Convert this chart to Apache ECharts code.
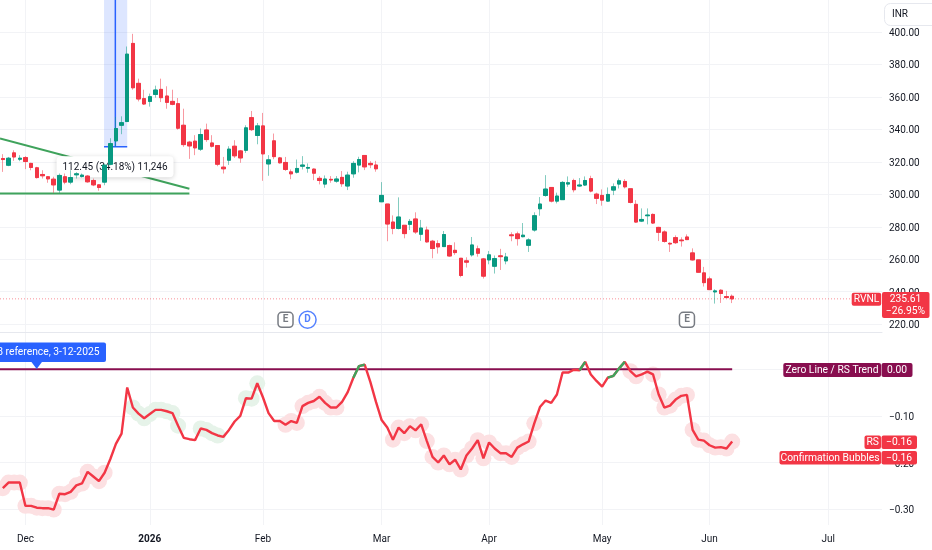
<!DOCTYPE html>
<html>
<head>
<meta charset="utf-8">
<style>html,body{margin:0;padding:0;background:#fff}#c{width:932px;height:550px}</style>
<script src="https://cdn.jsdelivr.net/npm/echarts@6/dist/echarts.min.js"></script>
</head>
<body>
<div id="c"></div>
<script>
// ---- data: [open, close, low, high] per session ----
const candlesDecember = [
[322.0,321.4,313.8,324.7],[317.9,322.2,317.3,323.0],[325.5,323.0,320.6,327.1],[321.6,322.2,320.4,324.1],
[322.6,320.2,315.5,323.5],[319.0,316.5,314.8,319.4],[316.3,310.3,309.7,316.9],[312.2,311.4,309.7,314.8],
[310.8,309.5,307.1,311.2],[309.3,305.8,300.9,310.8],[302.6,311.6,300.9,312.8],[310.8,307.5,306.2,312.8],
[307.5,310.3,306.2,314.8],[312.0,312.6,309.7,313.6],[311.0,311.8,310.3,312.8],[311.2,307.7,307.1,311.8],
[308.5,305.8,305.0,309.7],[305.8,304.2,302.2,306.2],[307.5,317.9,305.6,318.9],[318.5,331.2,317.9,334.5],
[332.9,340.5,329.2,347.6],[342.5,344.1,337.0,348.0],[344.8,386.3,344.5,391.0],[392.9,365.6,364.4,398.8],
[368.3,358.7,357.2,371.2],[358.9,355.6,355.0,364.4]];
const candlesJanuary = [
[357.2,360.1,354.0,362.0],[361.5,364.2,359.5,366.9],[364.6,359.5,356.8,371.2],[360.5,356.6,352.7,366.5],
[357.2,355.4,354.8,364.4],[355.8,340.7,339.8,359.3],[342.5,330.6,329.2,352.7],[332.1,329.8,321.8,332.9],
[332.7,328.6,324.1,336.4],[327.8,336.8,326.7,340.5],[339.6,333.7,332.3,343.5],[331.6,329.6,328.8,336.4],
[330.0,318.5,317.3,330.2],[316.7,315.7,312.8,323.0],[321.0,327.8,318.1,329.6],[329.6,323.7,322.4,333.3],
[326.7,322.4,319.4,327.3],[327.1,340.9,325.5,342.5],[347.2,339.8,339.0,351.3],[336.2,342.1,330.8,343.9]];
const candlesFebruary = [
[342.1,324.9,308.3,350.1],[318.7,321.2,311.4,324.1],[332.9,323.2,321.6,337.4],[322.4,319.4,318.9,323.0],
[319.6,315.3,314.4,323.0],[313.8,312.6,309.3,315.3],[313.6,315.9,312.8,321.4],[317.3,318.0,315.3,323.5],
[316.1,316.5,313.3,319.0],[315.5,313.0,308.7,315.9],[309.8,308.5,306.1,311.2],[306.3,309.4,304.0,311.6],
[309.2,308.8,307.1,311.2],[308.1,309.4,307.1,311.2],[310.4,306.5,304.6,314.3],[305.1,311.8,302.6,313.9],
[312.6,319.0,310.2,320.4],[318.0,321.4,313.5,323.1],[323.9,316.9,314.9,323.9],[319.0,318.2,316.1,320.4],
[318.0,315.7,313.9,320.6]];
const candlesMarch = [
[295.4,299.3,295.2,307.5],[294.0,281.7,271.1,294.0],[282.9,279.0,275.4,287.0],[279.0,286.0,278.4,298.1],
[280.9,275.8,272.9,280.9],[281.5,283.3,278.0,284.8],[284.8,276.8,275.6,288.9],[275.4,279.2,271.3,284.2],
[278.0,270.7,270.2,280.1],[271.1,266.6,260.6,271.9],[269.6,267.6,263.5,271.7],[267.8,275.2,267.6,277.4],
[268.4,262.0,261.6,269.0],[265.5,264.1,262.7,270.4],[260.6,250.0,248.9,260.6],[259.0,258.2,254.9,261.2],
[262.7,268.8,261.6,273.7],[266.4,263.7,261.6,268.4],[260.2,249.6,248.1,260.8]];
const candlesApril = [
[259.6,262.7,256.9,265.1],[255.7,260.4,251.2,262.3],[262.1,261.6,253.4,266.4],[259.0,261.4,256.9,263.9],
[275.0,274.5,271.1,276.6],[275.6,272.7,268.4,277.0],[273.9,274.8,273.5,282.3],[268.6,271.9,264.5,272.9],
[278.0,286.8,277.0,288.9],[291.1,294.0,286.8,298.3],[299.3,303.2,298.5,311.8],[304.2,295.8,295.0,304.2],
[295.8,298.9,294.4,301.0],[296.7,307.3,296.5,308.1],[306.3,307.1,304.6,311.0],[308.5,302.8,301.2,309.6],
[305.1,305.7,304.6,310.0],[305.7,308.5,305.1,311.0],[309.6,302.0,301.2,311.4],[300.1,297.5,294.0,301.0]];
const candlesMay = [
[299.3,296.4,293.0,303.0],[295.8,299.9,295.4,304.2],[302.6,304.6,299.5,306.7],[306.3,308.3,303.6,309.7],
[307.9,304.6,303.6,309.3],[303.4,295.0,294.4,303.4],[293.8,282.9,282.5,296.4],[283.5,284.5,282.9,291.3],
[286.8,287.2,281.5,291.3],[287.6,282.3,281.7,288.2],[279.6,276.6,271.2,280.0],[276.8,271.0,270.2,277.8],
[269.8,269.4,264.5,270.4],[273.3,270.2,269.4,274.7],[271.8,271.4,267.8,273.5],[273.7,272.1,271.8,275.3],
[263.9,259.6,259.2,266.7],[259.6,252.0,251.8,259.6],[251.6,245.6,243.2,255.3]];
const candlesJune = [
[247.9,241.3,241.1,249.3],[239.9,240.5,232.7,241.5],[240.9,238.9,233.1,241.5],[237.0,236.4,236.0,240.5],
[237.2,235.6,233.0,238.3]];

const rsValues = [
-0.255,-0.243,-0.243,-0.243,-0.293,-0.293,-0.297,-0.298,-0.298,-0.301,-0.267,-0.268,-0.263,-0.249,-0.245,-0.220,
-0.230,-0.240,-0.222,-0.193,-0.160,-0.138,-0.039,-0.082,-0.095,-0.105,-0.096,-0.087,-0.087,-0.090,-0.094,-0.121,
-0.147,-0.150,-0.152,-0.127,-0.130,-0.137,-0.142,-0.145,-0.130,-0.112,-0.100,-0.062,-0.063,-0.030,-0.060,-0.094,
-0.111,-0.111,-0.119,-0.111,-0.115,-0.079,-0.072,-0.068,-0.059,-0.072,-0.082,-0.082,-0.070,-0.049,-0.018,0.007,
0.010,-0.027,-0.070,-0.109,-0.125,-0.151,-0.125,-0.137,-0.122,-0.131,-0.118,-0.154,-0.188,-0.200,-0.185,-0.204,
-0.194,-0.215,-0.185,-0.170,-0.152,-0.191,-0.157,-0.170,-0.180,-0.180,-0.188,-0.168,-0.161,-0.155,-0.116,-0.081,
-0.067,-0.072,-0.054,-0.007,-0.007,-0.001,-0.002,0.016,-0.011,-0.025,-0.037,-0.018,-0.014,0.002,0.016,-0.004,
-0.015,-0.011,-0.005,-0.011,-0.054,-0.082,-0.078,-0.065,-0.057,-0.055,-0.130,-0.151,-0.153,-0.163,-0.168,-0.167,
-0.170,-0.155];
const rsGreenSpans = [[62,64],[102,103],[107,110]];
const bubbleRedIdx = [0,1,2,3,4,5,6,7,8,9,10,11,12,13,14,15,16,17,18,50,51,52,53,54,55,56,57,58,59,
69,70,71,72,73,74,75,76,77,78,79,80,81,82,83,84,85,86,87,88,89,90,91,92,93,94,
111,112,115,116,117,118,119,120,121,122,123,124,125,126,127,128,129];
const bubbleGreenIdx = [23,24,25,26,27,28,29,30,31,35,36,37,38,43,44,45];

const tickIndex = [4,26,46,67,86,106,125,146];
const tickLabels = ['Dec','2026','Feb','Mar','Apr','May','Jun','Jul'];
const priceTicks = [220,240,260,280,300,320,340,360,380,400];
const rsTicks = [0,-0.1,-0.2,-0.3];
const slotCount = 156;
const lastPrice = 235.61, lastChange = '−26.95%';
const rsLast = '−0.16', bubbleLast = '−0.16', zeroLast = '0.00';
const trendFalling = [[-0.5,334.3],[33,303.4]];
const trendFlat = [[-0.5,300.55],[33,300.55]];
const rangeBase = 329.3, rangeTop = 441.4, rangeFrom = 17.9, rangeTo = 22, rangeMid = 19.9;
const rangeLabel = '112.45 (34.18%) 11,246';
const rangeLabelAt = [19.85,317.0];
const earningsIdx = [50,121], dividendIdx = [53.9], eventLevel = 222.7;
const refIdx = 6, refText = '8 reference, 3-12-2025';

// ---- chart ----
const FONT = 'Roboto, "Noto Sans", sans-serif';
const RED = '#f23645', GREEN = '#089981', LINEGREEN = '#3fa35c', MAROON = '#880e4f', BLUE = '#2962ff';
const INK = '#131722', GRID = '#f2f3f6', FS = 10;
const candles = [].concat(candlesDecember,candlesJanuary,candlesFebruary,candlesMarch,candlesApril,candlesMay,candlesJune);
const bodies = candles.map(c => [c[0],c[1],Math.min(c[0],c[1]),Math.max(c[0],c[1])]);
const categories = Array.from({length:slotCount},(_,i)=>{const k=tickIndex.indexOf(i);return k<0?'':tickLabels[k];});
const isTick = i => tickIndex.indexOf(i)>=0;
const rsPairs = rsValues.map((v,i)=>[i,v]);
const rsGreen = rsGreenSpans.map(s=>rsPairs.slice(s[0],s[1]+1));
const candleStyle = {color:GREEN,color0:RED,borderColor:GREEN,borderColor0:RED,borderWidth:1};

const chart = echarts.init(document.getElementById('c'),null,{renderer:'canvas'});

function greenSeg(d){return {type:'line',xAxisIndex:3,yAxisIndex:1,data:d,showSymbol:false,silent:true,z:8,animation:false,
  lineStyle:{color:LINEGREEN,width:2.4}};}

const W = 882;
function tag(x,y,w,h,text,bg,tx,anchor,size){
  return {type:'group',z:50,silent:true,children:[
    {type:'rect',shape:{x:x,y:y,width:w,height:h,r:2},style:{fill:bg},z:50},
    {type:'text',x:tx,y:y+h/2+0.5,z:51,style:{text:text,fill:'#fff',font:(size||10.3)+'px '+FONT,lineHeight:12.5,textAlign:anchor,textVerticalAlign:'middle'}}
  ]};
}

chart.setOption({
  animation:false,
  backgroundColor:'#fff',
  textStyle:{fontFamily:FONT},
  grid:[
    {left:0,top:0,width:W,height:332,containLabel:false},
    {left:0,top:333,width:W,height:192,containLabel:false}
  ],
  xAxis:[
    {type:'category',gridIndex:0,data:categories,boundaryGap:true,
      axisLine:{show:true,lineStyle:{color:'#e6e8ee',width:1}},axisTick:{show:false},axisLabel:{show:false},
      splitLine:{show:true,alignWithLabel:true,interval:(i)=>isTick(i),lineStyle:{color:GRID,width:1}}},
    {type:'category',gridIndex:1,data:categories,boundaryGap:true,
      axisLine:{show:false},axisTick:{show:false},
      axisLabel:{show:true,interval:(i)=>isTick(i),margin:9,color:INK,fontSize:FS,fontFamily:FONT,hideOverlap:false,
        formatter:(v)=>v==='2026'?'{b|2026}':v,rich:{b:{fontWeight:'bold',fontSize:FS,color:INK,fontFamily:FONT}}},
      splitLine:{show:true,alignWithLabel:true,interval:(i)=>isTick(i),lineStyle:{color:GRID,width:1}}},
    {type:'value',gridIndex:0,min:-0.5,max:slotCount-0.5,show:false,splitLine:{show:false}},
    {type:'value',gridIndex:1,min:-0.5,max:slotCount-0.5,show:false,splitLine:{show:false}}
  ],
  yAxis:[
    {type:'value',gridIndex:0,position:'right',min:215.2,max:419.64,scale:true,
      axisLine:{show:false},axisTick:{show:false,customValues:priceTicks},
      axisLabel:{customValues:priceTicks,margin:7,color:INK,fontSize:FS,fontFamily:FONT,verticalAlign:'top',lineHeight:3,formatter:(v)=>v.toFixed(2)},
      splitLine:{show:true,lineStyle:{color:GRID,width:1}}},
    {type:'value',gridIndex:1,position:'right',min:-0.3341,max:0.0779,
      axisLine:{show:false},axisTick:{show:false,customValues:rsTicks},
      axisLabel:{customValues:rsTicks,margin:7,color:INK,fontSize:FS,fontFamily:FONT,verticalAlign:'top',lineHeight:3,
        formatter:(v)=>(v<0?'−':'')+Math.abs(v).toFixed(2)},
      splitLine:{show:true,lineStyle:{color:GRID,width:1}}}
  ],
  series:[
    // price range tool
    {type:'line',xAxisIndex:2,yAxisIndex:0,data:[[rangeMid,rangeBase],[rangeMid,rangeTop]],showSymbol:false,z:2,silent:true,
      lineStyle:{color:BLUE,width:1.5},
      markArea:{silent:true,itemStyle:{color:'rgba(41,98,255,0.16)'},data:[[{coord:[rangeFrom,rangeBase]},{coord:[rangeTo,rangeTop]}]]}},
    {type:'line',xAxisIndex:2,yAxisIndex:0,data:[[rangeFrom,rangeBase],[rangeTo,rangeBase]],showSymbol:false,z:2,silent:true,
      lineStyle:{color:BLUE,width:1.5}},
    // trend lines
    {type:'line',xAxisIndex:2,yAxisIndex:0,data:trendFalling,showSymbol:false,z:2,silent:true,lineStyle:{color:LINEGREEN,width:2}},
    {type:'line',xAxisIndex:2,yAxisIndex:0,data:trendFlat,showSymbol:false,z:2,silent:true,lineStyle:{color:LINEGREEN,width:2}},
    // last price line
    {type:'line',xAxisIndex:2,yAxisIndex:0,data:[[-0.5,lastPrice],[slotCount-0.5,lastPrice]],showSymbol:false,z:2,silent:true,
      lineStyle:{color:'rgba(242,54,69,0.55)',width:1,type:[1,2]}},
    // measure label (under the candles)
    {type:'custom',xAxisIndex:2,yAxisIndex:0,data:[rangeLabelAt],z:3,silent:true,clip:false,
      renderItem:(params,api)=>{
        const p = api.coord([api.value(0),api.value(1)]);
        return {type:'group',children:[
          {type:'rect',shape:{x:p[0]-58.5,y:p[1]-10.5,width:117,height:21,r:4},
            style:{fill:'#fff',shadowColor:'rgba(0,0,0,0.18)',shadowBlur:5,shadowOffsetY:1}},
          {type:'text',x:p[0],y:p[1]+0.5,style:{text:rangeLabel,fill:INK,font:FS+'px '+FONT,textAlign:'center',textVerticalAlign:'middle'}}
        ]};
      }},
    // candles: wicks pale, bodies solid
    {type:'candlestick',xAxisIndex:0,yAxisIndex:0,data:candles,barWidth:4,z:5,silent:true,itemStyle:Object.assign({},candleStyle,{opacity:0.5})},
    {type:'candlestick',xAxisIndex:0,yAxisIndex:0,data:bodies,barWidth:4,z:6,silent:true,itemStyle:candleStyle},
    // events
    {type:'scatter',xAxisIndex:2,yAxisIndex:0,data:earningsIdx.map(i=>[i,eventLevel]),symbol:'roundRect',symbolSize:15,z:7,silent:true,
      itemStyle:{color:'#fff',borderColor:'#555a63',borderWidth:1.5},
      label:{show:true,position:'inside',formatter:'E',color:'#555a63',fontSize:10,fontWeight:'bold',fontFamily:FONT}},
    {type:'scatter',xAxisIndex:2,yAxisIndex:0,data:dividendIdx.map(i=>[i,eventLevel]),symbol:'circle',symbolSize:17,z:7,silent:true,
      itemStyle:{color:'#fff',borderColor:BLUE,borderWidth:1.5},
      label:{show:true,position:'inside',formatter:'D',color:BLUE,fontSize:10,fontWeight:'bold',fontFamily:FONT}},
    // RS pane
    {type:'scatter',xAxisIndex:3,yAxisIndex:1,data:bubbleRedIdx.map(i=>[i,rsValues[i]]),symbolSize:16,z:2,silent:true,itemStyle:{color:'#fce0e2',opacity:1}},
    {type:'scatter',xAxisIndex:3,yAxisIndex:1,data:bubbleGreenIdx.map(i=>[i,rsValues[i]]),symbolSize:16,z:2,silent:true,itemStyle:{color:'#e6f3e9',opacity:1}},
    {type:'line',xAxisIndex:3,yAxisIndex:1,data:[[-0.5,0],[129,0]],showSymbol:false,z:3,silent:true,lineStyle:{color:MAROON,width:2}},
    {type:'line',xAxisIndex:3,yAxisIndex:1,data:rsPairs,showSymbol:false,z:7,silent:true,lineStyle:{color:RED,width:2.4}}
  ].concat(rsGreen.map(greenSeg)),
  graphic:[
    {type:'rect',z:40,silent:true,shape:{x:884.5,y:3.5,width:60,height:22,r:6},style:{fill:'#fff',stroke:'#e6e8ee',lineWidth:1}},
    {type:'text',z:41,silent:true,x:892,y:14.5,style:{text:'INR',fill:INK,font:FS+'px '+FONT,textVerticalAlign:'middle'}},
    // reference flag
    {type:'polygon',z:40,silent:true,shape:{points:[[30.7,361],[42.7,361],[36.7,369]]},style:{fill:BLUE}},
    {type:'rect',z:40,silent:true,shape:{x:-10,y:342.5,width:116,height:19.5,r:2},style:{fill:BLUE}},
    {type:'text',z:41,silent:true,x:99.5,y:352.5,style:{text:refText,fill:'#fff',font:'10.3px '+FONT,textAlign:'right',textVerticalAlign:'middle'}},
    // right-hand tags
    tag(851.7,292.7,29.5,13,'RVNL',RED,866.5,'center'),
    tag(882,292,47.5,26,lastPrice.toFixed(2)+'\n'+lastChange,RED,905.5,'center'),
    tag(783.3,363,97.7,14,'Zero Line / RS Trend',MAROON,832,'center'),
    tag(881.5,363,31,14,zeroLast,MAROON,897,'center'),
    tag(864.5,435.5,16.5,13.5,'RS',RED,872.7,'center'),
    tag(881.5,435.5,35.5,13.5,rsLast,RED,899,'center'),
    tag(779.5,451,101.5,13.5,'Confirmation Bubbles',RED,830,'center'),
    tag(881.5,451,35.5,13.5,bubbleLast,RED,899,'center')
  ]
});
</script>
</body>
</html>
